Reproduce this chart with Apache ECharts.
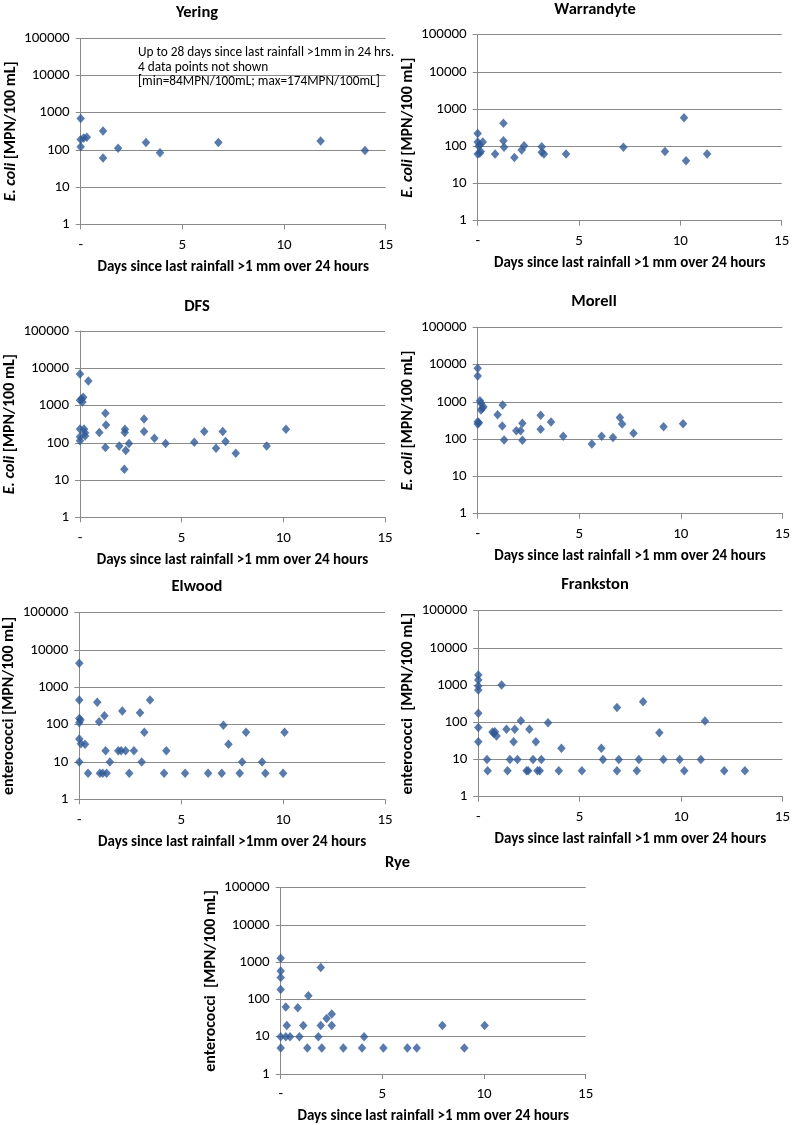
<!DOCTYPE html>
<html>
<head>
<meta charset="utf-8">
<script src="https://cdn.jsdelivr.net/npm/echarts@6/dist/echarts.min.js"></script>
<style>
html,body{margin:0;padding:0;background:#fff;}
#chart{width:793px;height:1125px;}
</style>
</head>
<body>
<div id="chart"></div>
<script>
// ---- Data: [days since last rainfall, MPN/100 mL] ----
const yering = [[0,700],[0,190],[0,122],[0.15,210],[0.3,220],[1.1,323],[1.1,61],[1.84,110],[3.21,157],[3.9,84],[6.77,157],[11.8,174],[13.98,96]];
const warrandyte = [[0,220],[0,130],[0.05,100],[0,62],[0.1,110],[0.15,72],[0.25,130],[0.1,65],[0.86,62],[1.27,415],[1.27,141],[1.3,94],[1.81,50],[2.17,79],[2.29,103],[3.16,97],[3.16,69],[3.27,62],[4.36,62],[7.19,94],[9.24,73],[10.18,586],[10.28,41],[11.32,62]];
const dfs = [[0,7000],[0.41,4560],[0,1380],[0.08,1500],[0.16,1660],[0.12,1240],[0,235],[0,146],[0,114],[0.2,235],[0.25,187],[0.25,152],[0.95,190],[1.25,618],[1.28,302],[1.25,75],[1.93,82],[2.18,19.4],[2.21,230],[2.2,190],[2.25,62],[2.41,95],[3.15,436],[3.15,200],[3.66,132],[4.21,95],[5.62,103],[6.11,200],[6.69,71],[7.02,200],[7.16,108],[7.66,52],[9.18,82],[10.13,230]];
const morell = [[0,7940],[0,4930],[0.11,1070],[0.16,915],[0.23,670],[0.16,605],[0.28,745],[0,293],[0,255],[0.06,277],[0.98,454],[1.23,826],[1.21,225],[1.3,95],[1.9,169],[2.11,169],[2.2,265],[2.2,93],[3.1,434],[3.1,183],[3.61,287],[4.21,119],[5.62,74],[6.1,119],[6.66,110],[7.0,378],[7.11,255],[7.67,143],[9.15,215],[10.11,260]];
const elwood = [[0,4400],[0,460],[0,147],[0.06,133],[0,113],[0,41],[0.08,31],[0.28,30],[0,10],[0.43,5],[0.88,397],[0.97,120],[1.01,5],[1.15,5],[1.23,174],[1.29,20],[1.34,5],[1.5,10],[1.91,20],[2.05,20],[2.11,232],[2.27,20],[2.45,5],[2.68,20],[2.98,210],[3.06,10],[3.19,63],[3.47,460],[4.16,5],[4.27,20],[5.19,5],[6.32,5],[6.99,5],[7.07,96],[7.32,30],[7.87,5],[7.99,10],[8.18,63],[8.97,10],[9.13,5],[10.0,5],[10.07,63]];
const frankston = [[0,1870],[0,1370],[0,940],[0,735],[0,174],[0,72],[0,30],[0.43,10],[0.46,5],[0.7,55],[0.77,50],[0.82,56],[0.9,43],[1.15,1000],[1.39,65],[1.44,5],[1.56,10],[1.74,30],[1.8,65],[1.93,10],[2.1,110],[2.38,5],[2.46,5],[2.52,65],[2.7,10],[2.84,30],[2.92,5],[3.03,5],[3.11,10],[3.44,97],[3.97,5],[4.1,20],[5.11,5],[6.07,20],[6.15,10],[6.84,5],[6.84,251],[6.93,10],[7.82,5],[7.92,10],[8.13,358],[8.93,52],[9.13,10],[9.93,10],[10.16,5],[10.98,10],[11.18,108],[12.13,5],[13.15,5]];
const rye = [[0,1280],[0,585],[0,390],[0,185],[0,10],[0,5],[0.25,63],[0.3,20],[0.25,10],[0.46,10],[0.84,60],[0.92,10],[1.11,20],[1.31,5],[1.36,125],[1.85,10],[1.97,720],[1.97,20],[2.02,5],[2.26,31],[2.51,41],[2.51,20],[3.08,5],[4.0,5],[4.1,10],[5.05,5],[6.23,5],[6.69,5],[7.95,20],[9.03,5],[10.03,20]];

const xTicks = [0, 5, 10, 15];
const yTicks = [1, 10, 100, 1000, 10000, 100000];

const ECOLI = '{i|E. coli} [MPN/100 mL]';
const ENTERO = 'enterococci [MPN/100 mL]';
const ENTERO2 = 'enterococci  [MPN/100 mL]';
const DAYS = 'Days since last rainfall >1 mm over 24 hours';
const DAYS2 = 'Days since last rainfall >1mm over 24 hours';
const NOTE = 'Up to 28 days since last rainfall >1mm in 24 hrs.\n4 data points not shown\n[min=84MPN/100mL; max=174MPN/100mL]';

// ---- Layout ----
const panels = [
  {title:'Yering', data:yering, yName:ECOLI, xName:DAYS, g:[80.7,38.3,305,186], t:[197,13]},
  {title:'Warrandyte', data:warrandyte, yName:ECOLI, xName:DAYS, g:[477.7,34.7,304,186], t:[595,10]},
  {title:'DFS', data:dfs, yName:ECOLI, xName:DAYS, g:[80,331,305,186.3], t:[197,306.5]},
  {title:'Morell', data:morell, yName:ECOLI, xName:DAYS, g:[477.7,327.3,305,186.4], t:[594,301.5]},
  {title:'Elwood', data:elwood, yName:ENTERO, xName:DAYS2, g:[79.3,612.7,305.7,186.6], t:[197,586.5]},
  {title:'Frankston', data:frankston, yName:ENTERO2, xName:DAYS, g:[478.3,610.7,305,186], t:[595,585]},
  {title:'Rye', data:rye, yName:ENTERO2, xName:DAYS, g:[280.7,887.7,305,186.6], t:[397.5,863]}
];

const FONT = 'Carlito, Calibri, Lato, sans-serif';
const GRID_COLOR = '#8a8a8a';
const MARK = '#2f5a96';
const TXT = '#000';

const option = {
  animation:false,
  backgroundColor:'#fff',
  grid:[], xAxis:[], yAxis:[], series:[], graphic:[]
};

panels.forEach((p, i) => {
  option.grid.push({left:p.g[0], top:p.g[1], width:p.g[2], height:p.g[3], containLabel:false});
  option.xAxis.push({
    gridIndex:i, type:'value', min:xTicks[0], max:xTicks[xTicks.length-1], interval:5,
    name:p.xName, nameLocation:'middle', nameGap:35,
    nameTextStyle:{fontFamily:FONT, fontWeight:'bold', fontSize:15, color:TXT},
    axisLine:{show:true, onZero:false, lineStyle:{color:GRID_COLOR, width:1}},
    axisTick:{show:true, length:5, lineStyle:{color:GRID_COLOR}},
    axisLabel:{margin:13, fontFamily:FONT, fontSize:15, color:TXT,
      formatter:v => v === 0 ? '-' : String(v)},
    splitLine:{show:false}
  });
  option.yAxis.push({
    gridIndex:i, type:'log', logBase:10, min:yTicks[0], max:yTicks[yTicks.length-1],
    name:p.yName, nameLocation:'middle', nameGap:62,
    nameTextStyle:{fontFamily:FONT, fontWeight:'bold', fontSize:16, color:TXT,
      rich:{i:{fontFamily:FONT, fontWeight:'bold', fontStyle:'italic', fontSize:16, color:TXT}}},
    axisLine:{show:true, lineStyle:{color:GRID_COLOR, width:1}},
    axisTick:{show:true, length:5, lineStyle:{color:GRID_COLOR}},
    axisLabel:{margin:11, fontFamily:FONT, fontSize:15, color:TXT,
      formatter:v => String(Math.round(v))},
    splitLine:{show:true, lineStyle:{color:GRID_COLOR, width:1}},
    minorTick:{show:false}
  });
  option.series.push({
    type:'scatter', xAxisIndex:i, yAxisIndex:i, data:p.data,
    symbol:'diamond', symbolSize:[8.5,9.5],
    itemStyle:{color:MARK}, z:5
  });
  option.graphic.push({
    type:'text', x:p.t[0], y:p.t[1], z:10,
    style:{text:p.title, textAlign:'center', textVerticalAlign:'middle',
      fontFamily:FONT, fontWeight:'bold', fontSize:16.5, fill:TXT}
  });
});

option.graphic.push({
  type:'text', x:138, y:46, z:10,
  style:{text:NOTE, textAlign:'left', textVerticalAlign:'top', lineHeight:14.3,
    fontFamily:FONT, fontSize:13.3, fill:TXT}
});

const chart = echarts.init(document.getElementById('chart'), null, {renderer:'canvas'});
chart.setOption(option);
</script>
</body>
</html>
